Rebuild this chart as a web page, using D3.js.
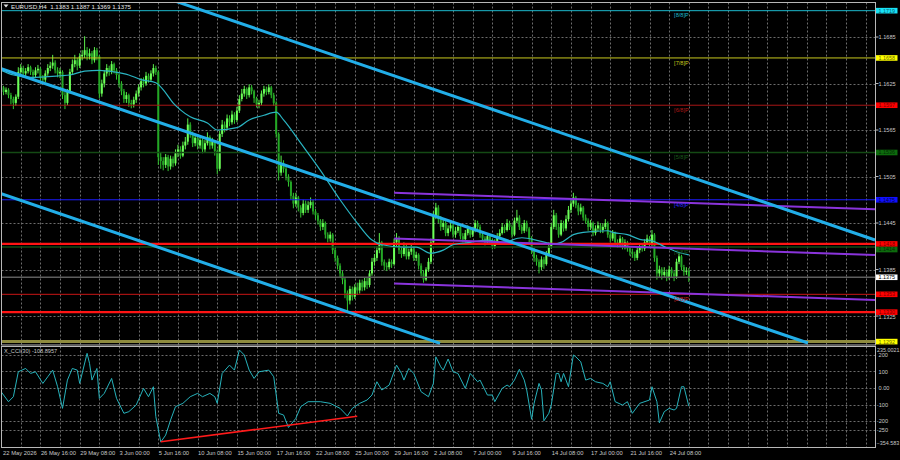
<!DOCTYPE html>
<html>
<head>
<meta charset="utf-8">
<script src="https://cdn.jsdelivr.net/npm/d3@7"></script>
<style>
body { margin: 0; background: #000; }
svg text { font-family: "Liberation Sans", Arial, sans-serif; }
</style>
</head>
<body>
<div id="chart"></div>
<script>
// ---- data ----
var symbolTitle = "EURUSD,H4";
var lastOHLC = ["1.1383", "1.1387", "1.1369", "1.1375"];
var dateLabels = ["22 May 2026", "26 May 16:00", "29 May 08:00", "3 Jun 00:00", "5 Jun 16:00", "10 Jun 08:00",
    "15 Jun 00:00", "17 Jun 16:00", "22 Jun 08:00", "25 Jun 00:00", "29 Jun 16:00", "2 Jul 08:00",
    "7 Jul 00:00", "9 Jul 16:00", "14 Jul 08:00", "17 Jul 00:00", "21 Jul 16:00", "24 Jul 08:00"];

// H4 candles, prices in pips above 1.1000
var base = 1.1, pip = 0.0001;
var firstOpen = 622;
var closes = [620, 614, 617, 610, 605, 600, 608, 640, 645, 638,
    641, 646, 640, 636, 642, 644, 633, 630, 638, 645,
    648, 652, 642, 638, 640, 610, 600, 615, 640, 650,
    655, 648, 660, 662, 668, 660, 664, 655, 668, 660,
    612, 625, 638, 645, 640, 650, 642, 636, 625, 615,
    605, 610, 600, 598, 604, 612, 620, 628, 625, 635,
    630, 638, 645, 640, 530, 525, 520, 530, 518, 528,
    522, 535, 540, 532, 545, 550, 572, 560, 548, 555,
    545, 552, 540, 548, 556, 545, 550, 538, 515, 560,
    572, 568, 580, 575, 585, 578, 590, 605, 612, 618,
    610, 620, 615, 606, 598, 600, 612, 618, 614, 620,
    610, 600, 560, 510, 522, 515, 505, 498, 480, 470,
    478, 465, 458, 470, 462, 468, 472, 460, 455, 448,
    440, 445, 430, 425, 430, 410, 400, 390, 380, 372,
    355, 345, 360, 350, 362, 358, 368, 362, 370, 365,
    380, 395, 400, 410, 420, 395, 390, 388, 395, 392,
    420, 425, 410, 405, 415, 402, 408, 412, 400, 404,
    390, 380, 372, 385, 395, 420, 455, 465, 450, 440,
    445, 432, 438, 442, 430, 435, 440, 428, 424, 432,
    438, 430, 436, 445, 440, 430, 425, 420, 428, 422,
    415, 420, 428, 432, 440, 436, 445, 440, 430, 448,
    452, 440, 435, 445, 438, 425, 410, 400, 395, 388,
    398, 392, 405, 415, 440, 455, 440, 430, 445, 438,
    450, 462, 470, 478, 468, 460, 465, 452, 448, 440,
    445, 432, 438, 442, 436, 440, 445, 430, 425, 432,
    420, 418, 425, 415, 420, 412, 408, 405, 400, 410,
    415, 412, 420, 425, 418, 430, 400, 380, 385, 378,
    382, 375, 385, 380, 376, 395, 402, 388, 382, 383,
    375];
var highs = [626, 622, 620, 619, 613, 608, 611, 646, 650, 648,
    645, 650, 648, 643, 646, 649, 646, 636, 642, 650,
    653, 662, 655, 646, 645, 642, 614, 618, 644, 656,
    662, 658, 664, 668, 686, 672, 670, 667, 672, 671,
    662, 630, 642, 650, 648, 654, 652, 645, 638, 628,
    618, 614, 612, 604, 608, 616, 624, 632, 633, 640,
    638, 642, 650, 648, 642, 536, 530, 534, 533, 532,
    531, 540, 546, 544, 550, 556, 580, 575, 563, 560,
    558, 556, 554, 552, 562, 558, 555, 552, 540, 564,
    578, 576, 585, 584, 590, 588, 595, 610, 618, 622,
    620, 624, 623, 617, 608, 604, 616, 622, 621, 624,
    622, 613, 602, 562, 532, 526, 518, 508, 500, 484,
    484, 480, 468, 475, 474, 473, 478, 475, 463, 458,
    450, 450, 447, 433, 434, 432, 413, 403, 393, 383,
    375, 358, 364, 363, 366, 368, 372, 372, 375, 374,
    384, 400, 405, 415, 432, 422, 398, 394, 399, 398,
    425, 432, 428, 414, 420, 418, 412, 417, 415, 408,
    406, 393, 384, 388, 400, 425, 460, 471, 468, 454,
    450, 448, 442, 447, 445, 440, 445, 442, 432, 436,
    442, 440, 440, 449, 448, 443, 433, 428, 432, 431,
    425, 424, 432, 437, 445, 443, 450, 448, 443, 452,
    462, 455, 443, 449, 448, 440, 428, 413, 404, 398,
    402, 401, 409, 420, 445, 462, 458, 444, 449, 448,
    455, 467, 476, 484, 480, 471, 470, 467, 456, 451,
    449, 447, 442, 447, 445, 444, 450, 447, 433, 436,
    434, 424, 429, 427, 424, 422, 415, 412, 408, 414,
    419, 418, 424, 430, 428, 436, 432, 403, 390, 388,
    388, 385, 390, 388, 383, 399, 406, 404, 391, 388,
    387];
var lows = [615, 610, 611, 606, 598, 592, 596, 605, 636, 634,
    634, 638, 636, 630, 632, 638, 628, 625, 627, 635,
    641, 644, 638, 633, 632, 605, 592, 597, 612, 636,
    646, 642, 645, 655, 658, 655, 656, 650, 652, 655,
    606, 608, 620, 634, 635, 637, 638, 630, 620, 610,
    600, 600, 595, 593, 594, 600, 608, 616, 620, 622,
    626, 627, 634, 636, 520, 515, 513, 516, 512, 514,
    517, 519, 530, 528, 530, 540, 546, 555, 543, 544,
    540, 541, 535, 536, 545, 540, 541, 532, 508, 512,
    556, 562, 565, 570, 572, 573, 575, 587, 602, 608,
    605, 607, 611, 600, 594, 593, 597, 608, 610, 611,
    606, 596, 555, 500, 506, 510, 500, 492, 475, 464,
    466, 460, 452, 455, 458, 458, 464, 456, 450, 443,
    435, 436, 425, 420, 421, 405, 395, 385, 375, 366,
    348, 329, 340, 345, 347, 352, 354, 357, 358, 360,
    362, 377, 390, 396, 406, 390, 384, 383, 385, 387,
    390, 415, 405, 400, 402, 398, 398, 404, 396, 396,
    385, 376, 368, 370, 382, 392, 418, 450, 445, 435,
    436, 428, 428, 434, 426, 426, 432, 424, 420, 420,
    429, 426, 427, 433, 436, 426, 421, 416, 418, 418,
    411, 412, 418, 425, 430, 432, 434, 436, 426, 428,
    445, 436, 431, 432, 434, 420, 405, 395, 390, 380,
    384, 386, 390, 402, 412, 437, 436, 426, 428, 434,
    435, 447, 458, 466, 464, 455, 456, 448, 444, 435,
    436, 428, 429, 434, 432, 432, 437, 426, 420, 422,
    416, 413, 415, 411, 411, 408, 403, 400, 396, 397,
    406, 408, 409, 417, 414, 415, 395, 372, 375, 372,
    374, 370, 372, 375, 370, 373, 392, 384, 377, 378,
    369];

// moving average (pips above 1.1000) at bar indices
var maBars = [0, 5, 12, 24, 28, 34, 40, 46, 52, 57, 63, 67, 70, 73, 77, 84, 88, 96, 101, 107,
    112, 115, 122, 130, 138, 145, 151, 155, 164, 169, 175, 180, 184, 191, 198, 204, 212, 219, 225, 228,
    233, 237, 247, 249, 255, 260, 265, 271, 275, 280];
var maValues = [642, 636, 633, 635, 636, 641, 642, 640, 636, 630, 626, 613, 600, 591, 582, 574, 565, 568, 578, 584,
    588, 578, 548, 513, 475, 445, 423, 417, 414, 414, 406, 410, 417, 420, 423, 420, 426, 422, 418, 420,
    430, 433, 435, 433, 430, 424, 422, 413, 408, 404];

// CCI(30) at bar indices
var cciBars = [0, 3, 5, 7, 10, 12, 14, 17, 19, 21, 23, 25, 27, 29, 31, 32, 35, 36, 37, 39,
    40, 42, 45, 47, 50, 52, 55, 58, 60, 62, 63, 65, 67, 69, 71, 74, 77, 80, 82, 85,
    87, 88, 90, 93, 95, 97, 99, 101, 103, 105, 109, 111, 113, 115, 117, 120, 122, 125, 130, 134,
    138, 141, 143, 146, 149, 151, 153, 155, 158, 161, 163, 164, 166, 168, 171, 174, 176, 177, 179, 180,
    182, 184, 186, 189, 191, 194, 195, 198, 200, 201, 204, 206, 207, 209, 211, 213, 214, 216, 217, 219,
    220, 221, 223, 224, 226, 227, 228, 229, 231, 233, 234, 236, 238, 240, 242, 245, 247, 248, 250, 253,
    255, 257, 260, 264, 265, 267, 268, 270, 272, 274, 275, 277, 278, 280];
var cciValues = [-22, -82, -52, 98, 118, 88, 98, 28, 68, 108, 8, -122, 48, 118, 108, 28, 209, 149, 48, 118,
    -62, -32, 58, -62, -152, -142, -102, -2, -52, 8, -172, -325, -283, -192, -112, -92, -52, -32, -52, -32,
    -52, -92, 88, 138, 108, 229, 199, 108, 58, 98, 108, 68, -152, -162, -237, -182, -112, -82, -82, -92,
    -122, -168, -122, -92, -72, -42, 38, -12, 18, 138, 88, 48, 118, 88, -22, -52, 28, 188, 128, 108,
    175, 98, 88, -2, 88, 38, 48, -42, -42, -82, -2, 18, 8, 48, 113, 48, -12, -188, -92, 28,
    -12, -197, -152, -102, 88, 88, 38, 88, 8, 199, 188, 158, 48, 58, 38, 28, 8, 38, -82, -102,
    -82, -152, -92, -72, 8, -82, -209, -142, -122, -132, -122, 8, 8, -108.9];
var cciName = "X_CCI(30) -108.8957";
var cciMax = 235.0021, cciMin = -354.583;
var cciTicks = [200, 100, 0, -100, -200, -250];
var cciTickLabels = ["200", "100", "0.00", "-100", "-200", "-250"];

var priceTicks = [1.1685, 1.1625, 1.1565, 1.1505, 1.1445, 1.1385, 1.1325];
var murreyNames = ["[8/8]P", "[7/8]P", "[6/8]P", "[5/8]P", "[4/8]P", "[3/8]P", "[2/8]P", "[1/8]P"];
var murreyLevels = [1.1719, 1.1658, 1.1597, 1.1536, 1.1475, 1.1414, 1.1353, 1.1292];
var supportLevels = [1.1418, 1.1330];
var currentPrice = 1.1375;
// [bar, price, bar, price]
var trendLines = [[69.6, 1.17327, 355.8, 1.14231], [-0.45, 1.16446, 328.5, 1.12902], [-0.45, 1.14833, 178.7, 1.12898]];
var channelLines = [[160, 1.14841, 355.8, 1.14627], [160, 1.14250, 355.8, 1.14037], [160, 1.13669, 355.8, 1.13457]];
var cciTrend = [65, -323, 145, -170];

// ---- styles ----
var murreyColors = ["#1cb8cc", "#c8c81e", "#a81616", "#144a14", "#1c1cff", "#144a14", "#c81616", "#8e8b3e"];
var murreyWidths = [1, 1, 1, 1.5, 1, 1.5, 1, 3];
var murreyLabelColors = ["#1cb8cc", "#c8c81e", "#b01818", "#1c5c1c", "#2a2aff", "#1c5c1c", "#c81e1e", "#8e8b3e"];
var boxColors = {
    "1.1719": ["#18e2f6", "#0b5d6b"], "1.1658": ["#ffff00", "#6a6a00"], "1.1597": ["#ff0000", "#7a0000"],
    "1.1536": ["#0d6b0d", "#042a04"], "1.1475": ["#1010ff", "#00004a"], "1.1414": ["#0d6b0d", "#042a04"],
    "1.1353": ["#ff0000", "#7a0000"], "1.1292": ["#ffff00", "#6a6a00"], "1.1418": ["#ff0000", "#7a0000"],
    "1.1330": ["#ff0000", "#7a0000"], "1.1375": ["#ffffff", "#000000"]
};
var gridColor = "#6c6c6c", axisText = "#c8c8c8";

var W = 900, H = 460;
var plotLeft = 1.5, plotRight = 875.5;
var mainTop = 2.5, mainBottom = 345, cciTop = 346.5, cciBottom = 447.5;

var svg = d3.select("#chart").append("svg").attr("width", W).attr("height", H)
    .style("background", "#000").style("display", "block");

var x = d3.scaleLinear().domain([-0.45, 355.8]).range([0, 875]);
var y = d3.scaleLinear().domain([1.12889, 1.17289]).range([344, 3]);
var yc = d3.scaleLinear().domain([cciMin, cciMax]).range([447, 349]);
function py(p) { return y(base + p * pip); }
var fmt = d3.format(".4f");

var defs = svg.append("defs");
defs.append("clipPath").attr("id", "clipMain").append("rect")
    .attr("x", plotLeft).attr("y", mainTop).attr("width", plotRight - plotLeft).attr("height", mainBottom - mainTop);
defs.append("clipPath").attr("id", "clipCci").append("rect")
    .attr("x", plotLeft).attr("y", cciTop).attr("width", plotRight - plotLeft).attr("height", cciBottom - cciTop);

var main = svg.append("g").attr("clip-path", "url(#clipMain)");
var sub = svg.append("g").attr("clip-path", "url(#clipCci)");

// grid
var vGrid = d3.range(8, 356, 8);
[main, sub].forEach(function (g, k) {
    g.selectAll("line.vg").data(vGrid).enter().append("line")
        .attr("x1", function (d) { return Math.round(x(d)) + 0.5; })
        .attr("x2", function (d) { return Math.round(x(d)) + 0.5; })
        .attr("y1", k == 0 ? mainTop : cciTop).attr("y2", k == 0 ? mainBottom : cciBottom)
        .attr("stroke", gridColor).attr("stroke-dasharray", "2,2");
});
main.selectAll("line.hg").data(priceTicks).enter().append("line")
    .attr("x1", plotLeft).attr("x2", plotRight)
    .attr("y1", function (d) { return Math.round(y(d)) + 0.5; })
    .attr("y2", function (d) { return Math.round(y(d)) + 0.5; })
    .attr("stroke", gridColor).attr("stroke-dasharray", "2,2");
sub.selectAll("line.hg").data(cciTicks).enter().append("line")
    .attr("x1", plotLeft).attr("x2", plotRight)
    .attr("y1", function (d) { return Math.round(yc(d)) + 0.5; })
    .attr("y2", function (d) { return Math.round(yc(d)) + 0.5; })
    .attr("stroke", gridColor).attr("stroke-dasharray", "2,2");

// candles
var bars = closes.map(function (c, i) {
    return { i: i, o: i == 0 ? firstOpen : closes[i - 1], c: c, h: highs[i], l: lows[i] };
});
var candle = main.selectAll("g.bar").data(bars).enter().append("g");
candle.append("line")
    .attr("x1", function (d) { return x(d.i); }).attr("x2", function (d) { return x(d.i); })
    .attr("y1", function (d) { return py(d.h); }).attr("y2", function (d) { return py(d.l); })
    .attr("stroke", function (d) { return d.c >= d.o ? "#5cf04c" : "#34c830"; }).attr("stroke-width", 1);
candle.append("rect")
    .attr("x", function (d) { return x(d.i) - 1; }).attr("width", 2)
    .attr("y", function (d) { return py(Math.max(d.o, d.c)); })
    .attr("height", function (d) { return Math.max(1, Math.abs(py(d.o) - py(d.c))); })
    .attr("fill", function (d) { return d.c >= d.o ? "#6cff58" : "#24a826"; });

// horizontal levels
main.selectAll("line.mm").data(murreyLevels).enter().append("line")
    .attr("x1", plotLeft).attr("x2", plotRight)
    .attr("y1", function (d) { return y(d); }).attr("y2", function (d) { return y(d); })
    .attr("stroke", function (d, i) { return murreyColors[i]; })
    .attr("stroke-width", function (d, i) { return murreyWidths[i]; });
main.append("line").attr("x1", plotLeft).attr("x2", plotRight)
    .attr("y1", y(currentPrice)).attr("y2", y(currentPrice))
    .attr("stroke", "#5e5e5e").attr("stroke-width", 1.5);
main.selectAll("line.sr").data(supportLevels).enter().append("line")
    .attr("x1", plotLeft).attr("x2", plotRight)
    .attr("y1", function (d) { return y(d); }).attr("y2", function (d) { return y(d); })
    .attr("stroke", "#ff1414").attr("stroke-width", 2.2);

// moving average
var maLine = d3.line().curve(d3.curveMonotoneX)
    .x(function (d, i) { return x(maBars[i]); }).y(function (d) { return py(d); });
main.append("path").datum(maValues).attr("d", maLine)
    .attr("fill", "none").attr("stroke", "#2ab4c2").attr("stroke-width", 1.2);

// regression channel and trend lines
main.selectAll("line.ch").data(channelLines).enter().append("line")
    .attr("x1", function (d) { return x(d[0]); }).attr("y1", function (d) { return y(d[1]); })
    .attr("x2", function (d) { return x(d[2]); }).attr("y2", function (d) { return y(d[3]); })
    .attr("stroke", "#8a34dc").attr("stroke-width", 2);
main.selectAll("line.tl").data(trendLines).enter().append("line")
    .attr("x1", function (d) { return x(d[0]); }).attr("y1", function (d) { return y(d[1]); })
    .attr("x2", function (d) { return x(d[2]); }).attr("y2", function (d) { return y(d[3]); })
    .attr("stroke", "#22aee8").attr("stroke-width", 3);

// murrey labels
main.selectAll("text.mm").data(murreyLevels.slice(0, 7)).enter().append("text")
    .attr("x", x(274)).attr("y", function (d) { return y(d) + 6.8; })
    .attr("font-size", 5.6).attr("fill", function (d, i) { return murreyLabelColors[i]; })
    .text(function (d, i) { return murreyNames[i]; });

// header
svg.append("path").attr("d", "M3.5,4.5 L8.5,4.5 L6,7.5 Z").attr("fill", "#e0e0e0");
svg.append("text").attr("x", 11).attr("y", 8.6).attr("font-size", 6.2).attr("fill", "#e6e6e6")
    .style("white-space", "pre").text(symbolTitle + "  " + lastOHLC.join(" "));

// CCI
var cciLine = d3.line().x(function (d, i) { return x(cciBars[i]); }).y(function (d) { return yc(d); });
sub.append("path").datum(cciValues).attr("d", cciLine)
    .attr("fill", "none").attr("stroke", "#27b2bb").attr("stroke-width", 1);
sub.append("line")
    .attr("x1", x(cciTrend[0])).attr("y1", yc(cciTrend[1]))
    .attr("x2", x(cciTrend[2])).attr("y2", yc(cciTrend[3]))
    .attr("stroke", "#ff1a1a").attr("stroke-width", 1.6);
svg.append("text").attr("x", 4).attr("y", 352.6).attr("font-size", 5.6).attr("fill", "#c8c8c8").text(cciName);

// frames
svg.append("rect").attr("x", plotLeft).attr("y", mainTop).attr("width", plotRight - plotLeft)
    .attr("height", mainBottom - mainTop).attr("fill", "none").attr("stroke", "#b8b8b8");
svg.append("rect").attr("x", plotLeft).attr("y", cciTop).attr("width", plotRight - plotLeft)
    .attr("height", cciBottom - cciTop).attr("fill", "none").attr("stroke", "#b8b8b8");

// price axis
var pAxis = svg.append("g");
pAxis.selectAll("line").data(priceTicks).enter().append("line")
    .attr("x1", plotRight).attr("x2", plotRight + 3)
    .attr("y1", function (d) { return y(d); }).attr("y2", function (d) { return y(d); })
    .attr("stroke", "#b8b8b8");
pAxis.selectAll("text").data(priceTicks).enter().append("text")
    .attr("x", 878.6).attr("y", function (d) { return y(d) + (d < 1.133 ? 3.4 : 2.1); })
    .attr("font-size", 5.6).attr("fill", axisText).text(fmt);

// level boxes, stacked downward where they would collide
var boxes = murreyLevels.concat(supportLevels, [currentPrice]).sort(function (a, b) { return b - a; });
var boxH = 5.6, lastBottom = -10;
var boxTop = boxes.map(function (d) {
    var t = Math.max(y(d) - boxH / 2, lastBottom);
    lastBottom = t + boxH;
    return t;
});
var box = svg.append("g").selectAll("g").data(boxes).enter().append("g")
    .attr("transform", function (d, i) { return "translate(876," + boxTop[i] + ")"; });
box.append("rect").attr("width", 21.5).attr("height", boxH)
    .attr("fill", function (d) { return boxColors[fmt(d)][0]; });
box.append("text").attr("x", 2.6).attr("y", 4.7).attr("font-size", 5.4)
    .attr("fill", function (d) { return boxColors[fmt(d)][1]; }).text(fmt);

// CCI axis
var cAxis = svg.append("g");
cAxis.selectAll("text").data(cciTicks).enter().append("text")
    .attr("x", function (d) { return d < 0 ? 876.8 : 878.6; }).attr("y", function (d) { return yc(d) + 2.1; })
    .attr("font-size", 5.6).attr("fill", axisText).text(function (d, i) { return cciTickLabels[i]; });
cAxis.append("text").attr("x", 877).attr("y", 351.6).attr("font-size", 5.4).attr("fill", axisText)
    .text(d3.format(".4f")(cciMax));
cAxis.append("text").attr("x", 876.6).attr("y", 445.2).attr("font-size", 5.4).attr("fill", axisText)
    .text(d3.format(".3f")(cciMin));

// time axis
svg.append("g").selectAll("text").data(dateLabels).enter().append("text")
    .attr("x", function (d, i) { return x(i * 16) + (i == 0 ? 2 : 0.5); }).attr("y", 455)
    .attr("font-size", 5.8).attr("fill", axisText).text(function (d) { return d; });
</script>
</body>
</html>
